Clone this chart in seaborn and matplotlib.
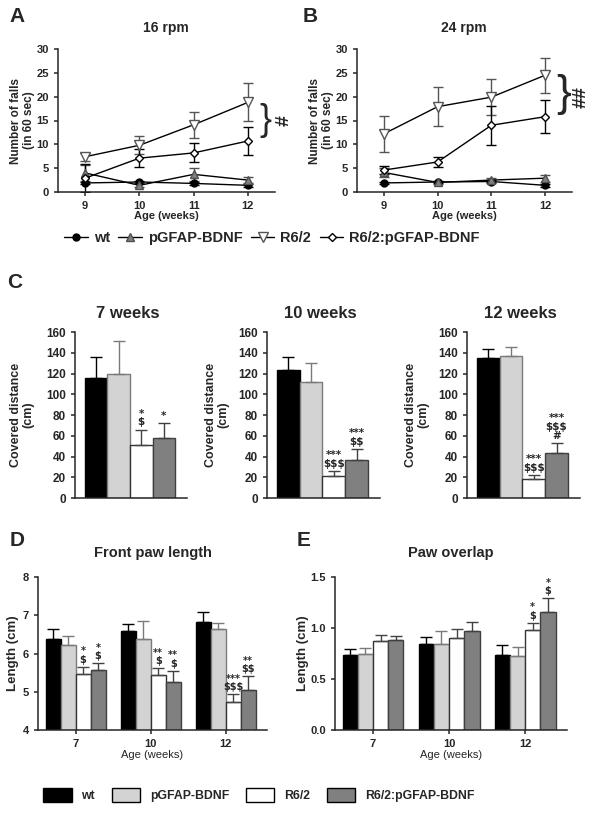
import pandas as pd
import matplotlib.pyplot as plt
import seaborn as sns

# groups and colours
genotypes = ["wt", "pGFAP-BDNF", "R6/2", "R6/2:pGFAP-BDNF"]
bar_colors = ["black", "#d3d3d3", "white", "#808080"]
edge_colors = ["black", "#7a7a7a", "#333333", "#404040"]
err_colors = ["black", "#7a7a7a", "#444444", "#404040"]

# A / B: rotarod, number of falls in 60 sec
weeks = [9, 10, 11, 12]
falls16_wt = [1.9, 2.1, 1.8, 1.4]
falls16_pg = [4.0, 1.4, 3.7, 2.5]
falls16_r62 = [7.4, 9.8, 14.1, 18.8]
falls16_r62pg = [2.9, 7.1, 8.2, 10.7]
falls16_wt_err = [0.3, 0.3, 0.3, 0.3]
falls16_pg_err = [1.6, 0.4, 1.4, 0.7]
falls16_r62_err = [0.8, 1.9, 2.7, 4.0]
falls16_r62pg_err = [3.0, 1.9, 2.0, 3.0]

falls24_wt = [1.9, 2.1, 2.2, 1.4]
falls24_pg = [4.1, 2.0, 2.5, 2.9]
falls24_r62 = [12.2, 17.9, 19.9, 24.5]
falls24_r62pg = [4.6, 6.3, 14.0, 15.8]
falls24_wt_err = [0.3, 0.3, 0.3, 0.3]
falls24_pg_err = [1.0, 0.3, 0.4, 0.7]
falls24_r62_err = [3.8, 4.1, 3.8, 3.7]
falls24_r62pg_err = [0.8, 1.1, 4.1, 3.4]

# C: covered distance (cm), one value per genotype
dist_7w = [116, 120, 51, 58]
dist_7w_err = [20, 31, 15, 14]
dist_10w = [123, 112, 21, 37]
dist_10w_err = [13, 18, 5, 10]
dist_12w = [135, 137, 18, 43]
dist_12w_err = [9, 9, 4, 10]
dist_7w_sig = ["", "", "*\n$", "*"]
dist_10w_sig = ["", "", "***\n$$$", "***\n$$"]
dist_12w_sig = ["", "", "***\n$$$", "***\n$$$\n#"]

# D / E: gait analysis
ages = ["7", "10", "12"]
paw_wt = [6.38, 6.58, 6.83]
paw_pg = [6.21, 6.39, 6.64]
paw_r62 = [5.46, 5.44, 4.73]
paw_r62pg = [5.57, 5.26, 5.05]
paw_wt_err = [0.27, 0.20, 0.25]
paw_pg_err = [0.25, 0.45, 0.17]
paw_r62_err = [0.19, 0.17, 0.20]
paw_r62pg_err = [0.17, 0.29, 0.35]
paw_r62_sig = ["*\n$", "**\n$", "***\n$$$"]
paw_r62pg_sig = ["*\n$", "**\n$", "**\n$$"]

ovl_wt = [0.74, 0.84, 0.74]
ovl_pg = [0.75, 0.84, 0.73]
ovl_r62 = [0.87, 0.90, 0.98]
ovl_r62pg = [0.88, 0.97, 1.16]
ovl_wt_err = [0.05, 0.07, 0.09]
ovl_pg_err = [0.05, 0.13, 0.08]
ovl_r62_err = [0.06, 0.09, 0.07]
ovl_r62pg_err = [0.04, 0.09, 0.13]
ovl_r62_sig = ["", "", "*\n$"]
ovl_r62pg_sig = ["", "", "*\n$"]
ovl_ticks = [0.0, 0.5, 1.0, 1.5]
ovl_ticklabels = ["0.0", "0.5", "1.0", "1.5"]

sns.set_style("ticks")
plt.rcParams["font.family"] = ["Liberation Sans", "DejaVu Sans"]
plt.rcParams["font.weight"] = "bold"
plt.rcParams["axes.labelweight"] = "bold"
plt.rcParams["axes.linewidth"] = 1.1
plt.rcParams["xtick.major.width"] = 1.1
plt.rcParams["ytick.major.width"] = 1.1
plt.rcParams["xtick.major.size"] = 3
plt.rcParams["ytick.major.size"] = 3
plt.rcParams["text.parse_math"] = False  # plain "$" signs

fig = plt.figure(figsize=(6, 8.16), dpi=100)


def px_axes(l, t, r, b):
    return fig.add_axes([l / 600, 1 - b / 816, (r - l) / 600, (b - t) / 816])


def fig_text(x, y, s, **kw):
    fig.text(x / 600, 1 - y / 816, s, ha="center", va="center", **kw)


markers = ["o", "^", "v", "D"]
mfc = ["black", "#808080", "white", "white"]
mec = ["black", "#505050", "#555555", "black"]
msize = [5, 6, 7, 4.5]
line_err = ["black", "#505050", "#555555", "black"]


def falls_panel(ax, means, errs):
    for i, g in enumerate(genotypes):
        ax.errorbar(weeks, means[i], yerr=errs[i], fmt="none", ecolor=line_err[i],
                    elinewidth=1, capsize=3.5, capthick=1, zorder=2)
        sns.lineplot(x=weeks, y=means[i], ax=ax, color="black", linewidth=1,
                     marker=markers[i], markersize=msize[i], markerfacecolor=mfc[i],
                     markeredgecolor=mec[i], markeredgewidth=1, label=g, zorder=3)
    if ax.get_legend() is not None:
        ax.get_legend().remove()
    ax.set_xlim(8.5, 12.5)
    ax.set_ylim(0, 30)
    ax.set_xticks(weeks)
    ax.set_yticks(range(0, 31, 5))
    ax.tick_params(labelsize=8)
    ax.set_xlabel("Age (weeks)", fontsize=8)
    ax.set_ylabel("Number of falls\n(in 60 sec)", fontsize=8.5, linespacing=1.1)
    ax.xaxis.label.set_va("center")
    ax.yaxis.label.set_va("center")
    ax.xaxis.set_label_coords(0.5, -0.17)
    ax.yaxis.set_label_coords(-0.165, 0.5)
    sns.despine(ax=ax)


axA = px_axes(58, 49, 275, 192)
falls_panel(axA, [falls16_wt, falls16_pg, falls16_r62, falls16_r62pg],
            [falls16_wt_err, falls16_pg_err, falls16_r62_err, falls16_r62pg_err])
axA.text(12.33, 15.1, "}", fontsize=26, fontweight="normal", ha="center", va="center", clip_on=False)
axA.text(12.67, 15.1, "#", fontsize=14, rotation=90, ha="center", va="center", clip_on=False)

axB = px_axes(357, 49, 572, 192)
falls_panel(axB, [falls24_wt, falls24_pg, falls24_r62, falls24_r62pg],
            [falls24_wt_err, falls24_pg_err, falls24_r62_err, falls24_r62pg_err])
axB.text(12.35, 20.4, "}", fontsize=32, fontweight="normal", ha="center", va="center", clip_on=False)
axB.text(12.67, 20.0, "##", fontsize=14, rotation=90, ha="center", va="center", clip_on=False)

fig_text(166, 28, "16 rpm", fontsize=10)
fig_text(464, 28, "24 rpm", fontsize=10)
fig_text(17, 16, "A", fontsize=15)
fig_text(310, 16, "B", fontsize=15)

handles, labels = axA.get_legend_handles_labels()
fig.legend(handles, labels, loc="center", bbox_to_anchor=(272 / 600, 1 - 238 / 816), ncol=4,
           frameon=False, fontsize=10.5, handlelength=1.6, handletextpad=0.4, columnspacing=0.6)


def add_err_sig(ax, bar, err, sig, color, ecolor, fs):
    bar.set_edgecolor(color)
    x = bar.get_x() + bar.get_width() / 2
    top = bar.get_height()
    ax.errorbar(x, top, yerr=[[0], [err]], fmt="none", ecolor=ecolor,
                elinewidth=1, capsize=4, capthick=1, zorder=3)
    if sig:
        ax.annotate(sig, (x, top + err), xytext=(0, 1.5), textcoords="offset points",
                    ha="center", va="bottom", fontsize=fs, linespacing=0.85,
                    family="DejaVu Sans", annotation_clip=False)


# C: covered distance
c_panels = [
    ((75, 332, 187, 498), dist_7w, dist_7w_err, dist_7w_sig, "7 weeks", -0.47),
    ((267, 332, 380, 498), dist_10w, dist_10w_err, dist_10w_sig, "10 weeks", -0.44),
    ((467, 332, 580, 498), dist_12w, dist_12w_err, dist_12w_sig, "12 weeks", -0.44),
]
for rect, means, errs, sigs, title, ylab_x in c_panels:
    ax = px_axes(*rect)
    df = pd.DataFrame({"genotype": genotypes, "distance": means})
    sns.barplot(data=df, x="genotype", y="distance", hue="genotype", order=genotypes,
                hue_order=genotypes, palette=bar_colors, saturation=1, width=1.0,
                linewidth=1, edgecolor="black", errorbar=None, legend=False, ax=ax)
    done = set()
    for bar in list(ax.patches):
        k = int(round(bar.get_x() + bar.get_width() / 2))
        if k in done or bar.get_height() == 0:
            continue
        done.add(k)
        add_err_sig(ax, bar, errs[k], sigs[k], edge_colors[k], err_colors[k], 7.5)
    ax.set_xlim(-0.94, 4.03)
    ax.set_ylim(0, 160)
    ax.set_yticks(range(0, 161, 20))
    ax.set_xticks([])
    ax.set_xlabel("")
    ax.tick_params(labelsize=8.5)
    ax.set_ylabel("Covered distance\n(cm)", fontsize=9, linespacing=1.1)
    ax.yaxis.label.set_va("center")
    ax.yaxis.set_label_coords(ylab_x, 0.5)
    sns.despine(ax=ax)
    fig_text((rect[0] + rect[2]) / 2 - 3, 313, title, fontsize=12)

fig_text(15, 282, "C", fontsize=15)


# D / E: paw length and overlap
def gait_panel(rect, series, errs, sigs, ylim, yticks, yticklabels, title, ylab_x):
    ax = px_axes(*rect)
    df = pd.DataFrame({
        "age": ages * 4,
        "genotype": [g for g in genotypes for _ in ages],
        "value": [v for s in series for v in s],
    })
    sns.barplot(data=df, x="age", y="value", hue="genotype", order=ages, hue_order=genotypes,
                palette=bar_colors, saturation=1, width=0.8, linewidth=1, edgecolor="black",
                errorbar=None, ax=ax)
    for i, cont in enumerate(ax.containers[:4]):
        for k, bar in enumerate(cont):
            add_err_sig(ax, bar, errs[i][k], sigs[i][k], edge_colors[i], err_colors[i], 7)
    ax.set_xlim(-0.5, 2.55)
    ax.set_ylim(*ylim)
    ax.set_yticks(yticks, labels=yticklabels)
    ax.tick_params(labelsize=8)
    ax.set_xlabel("Age (weeks)", fontsize=8, fontweight="normal")
    ax.set_ylabel("Length (cm)", fontsize=9.5)
    ax.xaxis.label.set_va("center")
    ax.yaxis.label.set_va("center")
    ax.xaxis.set_label_coords(0.5, -0.165)
    ax.yaxis.set_label_coords(ylab_x, 0.5)
    sns.despine(ax=ax)
    fig_text((rect[0] + rect[2]) / 2, 553, title, fontsize=10.5)
    return ax


axD = gait_panel((38, 577, 267, 730), [paw_wt, paw_pg, paw_r62, paw_r62pg],
                 [paw_wt_err, paw_pg_err, paw_r62_err, paw_r62pg_err],
                 [["", "", ""], ["", "", ""], paw_r62_sig, paw_r62pg_sig],
                 (4, 8), [4, 5, 6, 7, 8], ["4", "5", "6", "7", "8"], "Front paw length", -0.11)
axE = gait_panel((335, 577, 567, 730), [ovl_wt, ovl_pg, ovl_r62, ovl_r62pg],
                 [ovl_wt_err, ovl_pg_err, ovl_r62_err, ovl_r62pg_err],
                 [["", "", ""], ["", "", ""], ovl_r62_sig, ovl_r62pg_sig],
                 (0, 1.5), ovl_ticks, ovl_ticklabels, "Paw overlap", -0.14)

handles, labels = axD.get_legend_handles_labels()
axD.get_legend().remove()
axE.get_legend().remove()
fig.legend(handles, labels, loc="center", bbox_to_anchor=(259 / 600, 1 - 795 / 816), ncol=4,
           frameon=False, fontsize=8.8, handlelength=2.3, handleheight=1.4,
           handletextpad=0.8, columnspacing=1.4)

fig_text(17, 541, "D", fontsize=15)
fig_text(304, 541, "E", fontsize=15)

fig.savefig("out.png", dpi=100)
